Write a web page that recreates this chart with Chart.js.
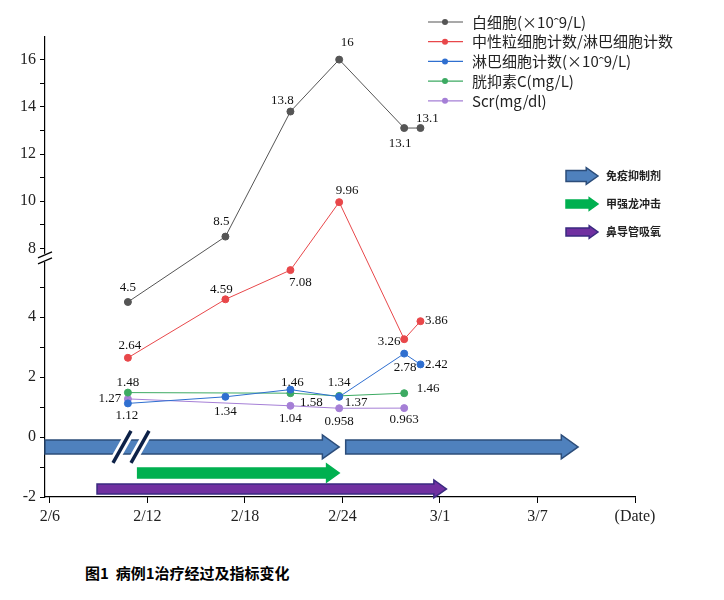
<!DOCTYPE html>
<html><head><meta charset="utf-8">
<script src="https://cdn.jsdelivr.net/npm/chart.js@4/dist/chart.umd.min.js"></script>
<style>body{margin:0;background:#fff;width:724px;height:600px;overflow:hidden}
#wrap{position:absolute;left:0;top:0;width:724px;height:550px}
#cap{position:absolute;left:85px;top:562px;font:bold 15px "Noto Sans CJK SC";color:#000}</style>
</head><body>
<div id="wrap"><canvas id="c"></canvas></div>
<div id="cap">图1&nbsp; 病例1治疗经过及指标变化</div>
<script>
// days since 2/6
const xTickDays=[0,6,12,18,24,30,36];
const xTickLabels=['2/6','2/12','2/18','2/24','3/1','3/7','(Date)'];
const yTickValues=[-2,0,2,4,8,10,12,14,16];
const yMinorValues=[-1,1,3,5,9,11,13,15];
const seriesNames=['白细胞(×10ˆ9/L)','中性粒细胞计数/淋巴细胞计数','淋巴细胞计数(×10ˆ9/L)','胱抑素C(mg/L)','Scr(mg/dl)'];
const colors=['#555555','#e8474a','#2f6fd0','#3caa62','#a57fd6'];
const wbcDays=[4.8,10.8,14.8,17.8,21.8,22.8];
const wbc=[4.5,8.5,13.8,16,13.1,13.1];
const nlrDays=[4.8,10.8,14.8,17.8,21.8,22.8];
const nlr=[2.64,4.59,7.08,9.96,3.26,3.86];
const lymDays=[4.8,10.8,14.8,17.8,21.8,22.8];
const lym=[1.12,1.34,1.58,1.34,2.78,2.42];
const cysDays=[4.8,14.8,17.8,21.8];
const cys=[1.48,1.46,1.37,1.46];
const scrDays=[4.8,14.8,17.8,21.8];
const scr=[1.27,1.04,0.958,0.963];
const labelOffsets=[
 [[0,-14],[-4,-15],[-8,-11],[8,-17],[-4,16],[7,-9]],
 [[2,-12],[-4,-10],[10,12],[8,-12],[-15,2],[16,-1]],
 [[-1,12],[0,15],[21,13],[0,-14],[1,14],[16,0]],
 [[0,-10],[2,-11],[17,7],[24,-5]],
 [[-18,0],[0,13],[0,13],[0,11]]];
const treatments=[
 {name:'免疫抑制剂',from:-0.3,to:17.8,y:-0.33,fill:'#4f81bd',stroke:'#2c4d7a',body:14,head:24},
 {name:'',from:18.2,to:32.5,y:-0.33,fill:'#4f81bd',stroke:'#2c4d7a',body:14,head:24},
 {name:'甲强龙冲击',from:5.4,to:17.8,y:-1.2,fill:'#00b050',stroke:'#00b050',body:10,head:18},
 {name:'鼻导管吸氧',from:2.9,to:24.4,y:-1.73,fill:'#7030a0',stroke:'#3a2a80',body:10,head:18}];
const K=23.6/30;
const disp=v=>v<=5.5?v:5.5+(v-7)*K;
const undisp=d=>d<=5.5?d:7+(d-5.5)/K;
const allDays=[wbcDays,nlrDays,lymDays,cysDays,scrDays];
const allVals=[wbc,nlr,lym,cys,scr];
const datasets=allVals.map((vals,i)=>({label:seriesNames[i],data:vals.map((v,j)=>({x:allDays[i][j],y:disp(v),raw:v})),
 borderColor:colors[i],backgroundColor:colors[i],borderWidth:1,pointRadius:3.5,pointHoverRadius:3.5,tension:0}));
function arrow(ctx,x1,x2,y,body,head,fill,stroke){
 const hl=head*0.7;ctx.beginPath();
 ctx.moveTo(x1,y-body/2);ctx.lineTo(x2-hl,y-body/2);ctx.lineTo(x2-hl,y-head/2);ctx.lineTo(x2,y);
 ctx.lineTo(x2-hl,y+head/2);ctx.lineTo(x2-hl,y+body/2);ctx.lineTo(x1,y+body/2);ctx.closePath();
 ctx.fillStyle=fill;ctx.fill();ctx.strokeStyle=stroke;ctx.lineWidth=1.5;ctx.stroke();}
const deco={id:'deco',
 beforeDatasetsDraw(ch){const c=ch.ctx,xs=ch.scales.x,ys=ch.scales.y;c.save();
  treatments.forEach(t=>arrow(c,xs.getPixelForValue(t.from),xs.getPixelForValue(t.to),ys.getPixelForValue(t.y),t.body,t.head,t.fill,t.stroke));
  c.strokeStyle='#fff';c.lineWidth=9;const by=ys.getPixelForValue(-0.33);
  [122,140].forEach(x=>{c.beginPath();c.moveTo(x-9,by+16);c.lineTo(x+9,by-16);c.stroke();});
  c.strokeStyle='#0d2147';c.lineWidth=3.5;
  [122,140].forEach(x=>{c.beginPath();c.moveTo(x-9,by+16);c.lineTo(x+9,by-16);c.stroke();});
  const ay=ys.getPixelForValue(5.5+0.6*K),ax=xs.left;
  c.fillStyle='#fff';c.fillRect(ax-8,ay-4,16,8);
  c.strokeStyle='#000';c.lineWidth=1.2;
  [-3,3].forEach(o=>{c.beginPath();c.moveTo(ax-7,ay+o+3);c.lineTo(ax+7,ay+o-3);c.stroke();});
  c.restore();},
 afterDatasetsDraw(ch){const c=ch.ctx;c.save();c.font='13px "Liberation Serif"';c.fillStyle='#111';c.textAlign='center';c.textBaseline='middle';
  ch.data.datasets.forEach((ds,i)=>{const m=ch.getDatasetMeta(i);m.data.forEach((p,j)=>{const o=labelOffsets[i][j];
   c.fillText(String(ds.data[j].raw),p.x+o[0],p.y+o[1]);});});
  c.font='15px "Noto Sans CJK SC"';c.textAlign='left';
  seriesNames.forEach((n,i)=>{const y=22+i*19.7;c.strokeStyle=colors[i];c.lineWidth=1.2;c.beginPath();c.moveTo(428,y);c.lineTo(463,y);c.stroke();
   c.fillStyle=colors[i];c.beginPath();c.arc(445,y,3,0,7);c.fill();c.fillStyle='#222';c.fillText(n,472,y);});
  c.font='bold 11px "Noto Sans CJK SC"';
  treatments.filter(t=>t.name).forEach((t,i)=>{const y=176+i*28;arrow(c,566,598,y,t.body*0.8,t.head*0.7,t.fill,t.stroke);c.fillStyle='#222';c.fillText(t.name,606,y);});
  c.restore();}};
new Chart(document.getElementById('c'),{type:'line',data:{datasets},
 options:{responsive:true,maintainAspectRatio:false,animation:false,
  layout:{padding:{top:37,right:89,left:0,bottom:0}},
  plugins:{legend:{display:false},tooltip:{enabled:false}},
  scales:{
   x:{type:'linear',min:-0.3,max:36,afterBuildTicks:a=>{a.ticks=xTickDays.map(v=>({value:v}));},
    afterFit:a=>{a.height=53;},
    grid:{drawOnChartArea:false,tickLength:6,color:'#000'},border:{color:'#000',width:1.2},
    ticks:{color:'#222',font:{family:'Liberation Serif',size:16},padding:4,callback:(v)=>xTickLabels[xTickDays.indexOf(v)]}},
   y:{type:'linear',min:-2,max:(437-37)/30,
    afterBuildTicks:a=>{a.ticks=yTickValues.concat(yMinorValues).map(v=>({value:disp(v)}));},
    afterFit:a=>{a.width=45;},
    grid:{drawOnChartArea:false,tickLength:5,color:'#000'},border:{color:'#000',width:1.2},
    ticks:{color:'#222',font:{family:'Liberation Serif',size:16},padding:4,autoSkip:false,
     callback:(v)=>{const r=Math.round(undisp(v)*100)/100;return yTickValues.includes(r)?String(r):'';}}}}},
 plugins:[deco]});
</script></body></html>
